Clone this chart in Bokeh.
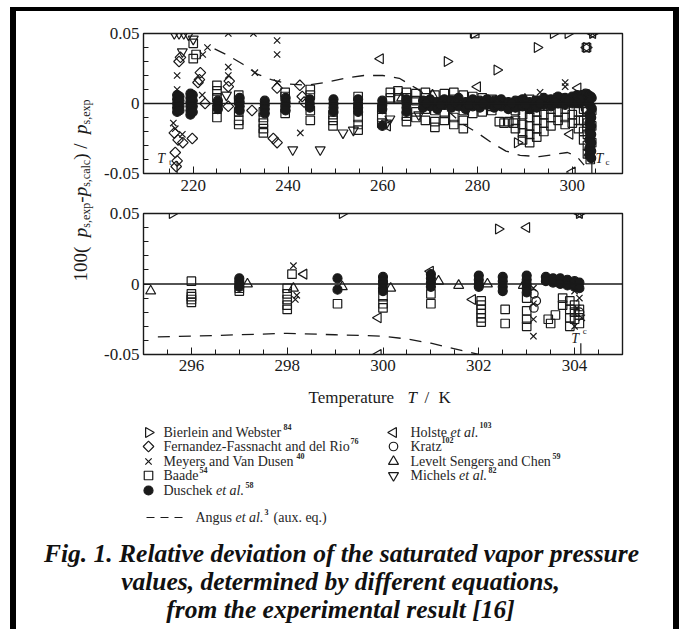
import math
from bokeh.plotting import figure
from bokeh.models import Range1d, FixedTicker, Span
from bokeh.layouts import column, row
from bokeh.embed import file_html
from bokeh.resources import INLINE
from bokeh.core.properties import value

SERIF = "Liberation Serif"
INK = "#1a1a1a"

# ------------------------------------------------------------------ data
# upper panel: T / K and 100 (p_exp - p_calc) / p_exp
bw_top_T = [273.6, 279.3, 284.1, 288.4, 292.6, 296.0, 299.1, 303.0, 304.3]
bw_top_dev = [0.030, 0.050, 0.024, -0.028, 0.040, 0.050, 0.050, 0.040, 0.050]

holste_top_T = [259.5, 261.0, 280.0, 299.5, 300.0, 301.2, 303.0, 304.3]
holste_top_dev = [0.032, -0.016, 0.012, -0.022, -0.049, 0.011, 0.040, 0.050]

ff_top_T = [216.0, 216.8, 216.2, 216.6, 216.4, 219.8, 217.8, 217.3, 217.0, 221.5, 221.3,
            221.0, 222.5, 227.4, 227.6, 227.4, 232.4, 236.9, 237.7, 237.7, 242.5, 243.0, 243.4]
ff_top_dev = [-0.021, -0.026, -0.035, -0.041, -0.045, -0.025, -0.028, 0.033, 0.030, 0.022, 0.017,
              0.015, 0.000, 0.012, 0.016, -0.002, -0.005, -0.025, 0.011, -0.028, 0.013, 0.005, 0.001]

meyers_top_T = [215.8, 216.2, 216.6, 216.6, 217.7, 221.9, 222.0, 223.0, 227.4, 227.4, 227.4,
                232.7, 233.0, 237.7, 237.7, 237.7, 242.6, 293.2, 298.5, 298.5, 303.1, 304.3]
meyers_top_dev = [-0.014, -0.018, 0.020, 0.010, -0.022, 0.006, 0.035, 0.040, 0.050, 0.026, 0.020,
                  0.050, 0.022, 0.045, 0.035, 0.015, -0.021, 0.008, 0.015, 0.012, -0.035, 0.050]

michels_top_T = [216.0, 217.0, 218.0, 219.0, 220.0, 217.7, 227.0, 241.0, 246.8, 251.6, 253.8,
                 260.8, 261.5, 267.6]
michels_top_dev = [0.050, 0.050, 0.050, 0.049, 0.046, 0.037, 0.006, -0.033, -0.033, -0.021, -0.019,
                   -0.014, -0.011, -0.008]

levelt_top_T = [264.0, 270.5, 276.0, 284.0, 290.0, 295.0, 300.5, 303.5]
levelt_top_dev = [0.004, 0.006, 0.003, 0.002, 0.003, 0.002, 0.004, 0.006]

kratz_top_T = [302.8, 303.6]
kratz_top_dev = [-0.004, 0.002]

baade_top_T = [
    220.0, 220.0, 220.6,
    225.0, 225.0, 225.0, 225.0, 225.0,
    229.6, 229.6, 229.6, 229.6, 229.6,
    234.8, 234.8, 234.8, 234.8, 234.8,
    239.4, 239.4, 239.4, 239.4,
    244.7, 244.7, 244.7, 244.7,
    249.5, 249.5, 249.5,
    254.8, 254.8, 254.8, 254.8, 254.8,
    259.8, 259.8, 259.8,
    261.6, 261.6, 263.2, 263.2,
    265.0, 265.0, 265.0, 265.0,
    267.0, 267.0, 267.0, 267.0,
    269.0, 269.0, 269.0, 269.0,
    271.0, 271.0, 271.0, 271.0,
    273.0, 273.0, 273.0, 273.0,
    275.0, 275.0, 275.0, 275.0,
    277.0, 277.0, 277.0, 277.0,
    279.0, 279.0, 279.0, 279.4,
    281.0, 281.0, 281.0,
    283.0, 283.0, 283.0,
    284.6, 285.6, 286.6, 287.6,
    288.0, 288.0, 288.0,
    289.5, 289.5, 289.5, 289.5, 289.5,
    291.0, 291.0, 291.0, 291.0, 291.0, 291.0,
    292.5, 292.5, 292.5, 292.5, 292.5,
    294.0, 294.0, 294.0, 294.0,
    295.5, 295.5, 295.5,
    297.0, 297.0, 297.0,
    298.5, 298.5, 298.5, 298.5,
    300.0, 300.0, 300.0,
    301.3, 301.3, 301.3, 301.3,
    302.4, 302.4, 302.4, 302.4,
    303.0,
    303.2, 303.2, 303.2, 303.2, 303.2,
    303.8, 303.8, 303.8, 303.8, 303.8,
    304.1, 304.1, 304.1,
]
baade_top_dev = [
    0.043, 0.032, 0.035,
    0.013, 0.009, 0.004, -0.004, -0.010,
    0.006, 0.002, -0.006, -0.012, -0.015,
    -0.006, -0.010, -0.014, -0.018, -0.021,
    0.008, 0.005, -0.003, -0.007,
    0.010, 0.006, -0.005, -0.012,
    -0.008, -0.012, -0.016,
    0.005, -0.003, -0.010, -0.015, -0.019,
    -0.004, -0.010, -0.014,
    0.008, 0.004, 0.009, 0.004,
    0.008, 0.004, -0.009, -0.013,
    0.007, 0.002, -0.006, -0.010,
    0.008, 0.004, -0.004, -0.012,
    0.006, -0.005, -0.013, -0.017,
    0.007, 0.002, -0.007, -0.012,
    0.008, 0.003, -0.010, -0.015,
    0.006, -0.005, -0.012, -0.018,
    0.005, 0.001, -0.007, 0.050,
    0.004, 0.000, -0.006,
    0.003, -0.002, -0.005,
    -0.013, -0.014, -0.013, -0.014,
    -0.005, -0.012, -0.018,
    0.002, -0.008, -0.015, -0.021, -0.026,
    0.003, -0.004, -0.010, -0.016, -0.022, -0.028,
    0.002, -0.006, -0.012, -0.018, -0.024,
    0.000, -0.008, -0.014, -0.020,
    -0.004, -0.010, -0.016,
    0.004, -0.006, -0.012,
    0.003, -0.004, -0.010, -0.015,
    0.002, -0.008, -0.014,
    0.001, -0.006, -0.012, -0.018,
    -0.004, -0.012, -0.020, -0.026,
    0.040,
    -0.006, -0.014, -0.022, -0.030, -0.036,
    -0.010, -0.018, -0.025, -0.033, -0.040,
    -0.005, -0.016, -0.028,
]

duschek_top_T = [
    216.6, 216.6, 216.6, 216.6, 216.6,
    217.1, 217.1, 217.1, 217.1,
    219.4, 219.4, 219.4, 219.4, 219.4, 219.4,
    219.9, 219.9, 219.9, 219.9,
    225.2, 225.2, 225.2,
    229.8, 229.8, 229.8, 229.8,
    235.1, 235.1, 235.1, 235.1,
    239.5, 239.5, 239.5, 239.5,
    244.6, 244.6, 244.6,
    249.6, 249.6, 249.6, 249.6,
    254.8, 254.8, 254.8, 254.8,
    259.9, 259.9, 259.9, 259.9,
    265.0, 265.0, 265.0, 265.0,
    268.5, 268.5, 270.0, 270.0, 271.5, 271.5, 273.0, 273.0, 274.5, 274.5,
    276.0, 276.0, 277.5, 277.5, 279.0, 279.0, 280.5, 280.5, 282.0, 282.0,
    283.5, 283.5, 285.0, 285.0, 286.5, 286.5, 288.0, 288.0, 289.5, 289.5,
    291.0, 291.0, 292.5, 292.5, 294.0, 294.0, 295.5, 295.5, 297.0, 297.0,
    298.5, 298.5, 300.0, 300.0, 301.0, 301.0, 302.0, 302.0, 302.8, 302.8,
    303.4, 303.4, 303.9, 303.9, 304.1, 304.1,
    269.2, 272.2, 275.2, 278.2, 281.2, 284.2, 287.2, 290.2, 293.2, 296.2, 299.2, 301.6,
    303.6, 303.6, 303.6, 303.6, 303.6, 303.6,
    304.0, 304.0, 304.0, 304.0, 304.0, 304.0,
]
duschek_top_dev = [
    0.006, 0.003, 0.000, -0.003, -0.006,
    0.005, 0.002, -0.002, -0.005,
    0.007, 0.004, 0.001, -0.002, -0.005, -0.008,
    0.006, 0.002, -0.002, -0.006,
    0.002, -0.001, -0.004,
    0.004, 0.001, -0.002, -0.005,
    0.002, -0.001, -0.004, -0.007,
    0.004, 0.001, -0.002, -0.005,
    0.003, 0.000, -0.003,
    0.003, 0.000, -0.003, -0.006,
    0.003, 0.000, -0.003, -0.006,
    0.002, -0.001, -0.004, -0.016,
    0.003, 0.000, -0.003, -0.006,
    0.002, -0.003, 0.003, -0.002, 0.001, -0.004, 0.003, -0.001, 0.002, -0.003,
    0.004, -0.002, 0.001, -0.004, 0.003, -0.002, 0.002, -0.003, 0.003, -0.001,
    0.002, -0.003, 0.003, -0.002, 0.001, -0.004, 0.002, -0.003, 0.003, -0.002,
    0.001, -0.004, 0.002, -0.003, 0.004, -0.001, 0.003, -0.002, 0.005, 0.000,
    0.004, -0.001, 0.005, 0.000, 0.006, 0.001, 0.006, 0.001, 0.007, 0.002,
    0.006, 0.000, 0.005, -0.002, 0.004, -0.004,
    0.000, -0.001, 0.001, -0.001, 0.000, -0.001, 0.000, -0.001, 0.000, 0.001, 0.002, 0.003,
    -0.008, -0.014, -0.020, -0.026, -0.032, -0.037,
    -0.010, -0.016, -0.022, -0.028, -0.034, -0.039,
]

angus_top_T = [224.5, 227.5, 230.5, 233.5, 236.5, 240.0, 244.0, 248.0, 252.0, 256.0, 260.0,
               263.5, 267.0, 270.0, 274.0, 277.0, 280.0, 283.0, 286.0, 289.0, 293.0, 297.0,
               299.0, 301.0, 302.5]
angus_top_dev = [0.039, 0.034, 0.028, 0.021, 0.017, 0.014, 0.013, 0.015, 0.018, 0.020, 0.020,
                 0.018, 0.011, 0.004, -0.006, -0.015, -0.021, -0.028, -0.034, -0.037, -0.038,
                 -0.036, -0.035, -0.038, -0.044]

# lower panel (enlarged near-critical range)
bw_bot_T = [295.6, 299.15, 302.41, 304.1]
bw_bot_dev = [0.050, 0.050, 0.039, 0.050]

holste_bot_T = [298.35, 299.9, 299.9, 300.99, 301.87, 303.0, 304.1]
holste_bot_dev = [0.007, -0.024, -0.050, 0.009, -0.011, 0.040, 0.050]

meyers_bot_T = [298.13, 298.17, 298.2, 303.14, 303.14, 303.14, 303.14, 304.0, 304.1, 304.05,
                304.15, 304.0, 304.1]
meyers_bot_dev = [0.013, -0.011, -0.008, -0.003, -0.014, -0.025, -0.037, -0.005, -0.010, -0.017,
                  -0.024, -0.030, 0.050]

levelt_bot_T = [295.15, 297.17, 298.13, 299.15, 300.16, 301.16, 301.58, 302.18, 302.93]
levelt_bot_dev = [-0.005, 0.000, -0.003, -0.002, -0.003, 0.002, -0.001, 0.000, -0.001]

kratz_bot_T = [303.15, 303.2, 303.15, 304.1]
kratz_bot_dev = [-0.007, -0.012, -0.017, -0.020]

baade_bot_T = [296.0, 296.0, 296.0, 296.0, 296.0, 297.0, 297.0, 298.0, 298.0, 298.0, 298.0,
               298.0, 299.05, 300.0, 300.0, 300.0, 301.0, 301.0, 302.05, 302.05, 302.05, 302.05,
               302.05, 302.05, 302.55, 302.55, 303.0, 303.0, 303.0, 303.0, 303.45, 303.5, 303.6,
               303.75, 303.75, 303.9, 303.9, 303.9, 303.9, 304.0, 304.0, 304.0, 304.1, 304.1,
               304.1, 298.1]
baade_bot_dev = [0.002, -0.007, -0.009, -0.011, -0.013, -0.003, -0.005, -0.003, -0.007, -0.011,
                 -0.015, -0.018, -0.014, -0.009, -0.014, -0.017, -0.007, -0.014, -0.012, -0.015,
                 -0.018, -0.021, -0.024, -0.027, -0.018, -0.028, -0.010, -0.019, -0.025, -0.030,
                 -0.025, -0.028, -0.022, -0.010, -0.015, -0.012, -0.018, -0.024, -0.030, -0.015,
                 -0.020, -0.025, -0.018, -0.022, -0.028, 0.007]

duschek_bot_T = [297.0, 297.0, 297.0, 297.0, 299.05, 299.05, 300.0, 300.0, 300.0, 300.0, 300.0,
                 301.0, 301.0, 301.0, 301.0, 302.0, 302.0, 302.0, 302.0, 302.5, 302.5, 302.5,
                 302.5, 303.0, 303.0, 303.0, 303.0, 303.0, 303.4, 303.4, 303.55, 303.55, 303.7,
                 303.7, 303.85, 303.85, 304.0, 304.0, 304.1, 304.1]
duschek_bot_dev = [0.004, 0.002, 0.000, -0.002, 0.004, -0.004, 0.005, 0.002, 0.000, -0.003,
                   -0.005, 0.007, 0.004, 0.001, -0.002, 0.006, 0.003, 0.000, -0.002, 0.005, 0.002,
                   -0.002, -0.005, 0.006, 0.003, 0.000, -0.003, -0.006, 0.005, 0.002, 0.004, 0.001,
                   0.004, 0.000, 0.003, -0.001, 0.002, -0.002, 0.001, -0.003]

angus_bot_T = [295.3, 296.0, 297.0, 298.0, 299.0, 300.0, 300.5, 301.0, 301.5, 302.0]
angus_bot_dev = [-0.0375, -0.037, -0.036, -0.035, -0.036, -0.037, -0.039, -0.042, -0.046, -0.050]

T_TRIPLE = 216.59
T_CRIT = 304.13

top_major = [220, 240, 260, 280, 300]
top_minor = [215, 225, 230, 235, 245, 250, 255, 265, 270, 275, 285, 290, 295, 305]
bot_major = [296, 298, 300, 302, 304]
bot_minor = [295.5, 296.5, 297, 297.5, 298.5, 299, 299.5, 300.5, 301, 301.5, 302.5, 303,
             303.5, 304.5]
y_major = [-0.05, 0.0, 0.05]
y_minor = [-0.04, -0.03, -0.02, -0.01, 0.01, 0.02, 0.03, 0.04]

# marker styles per data set
STY = {
    "bw": dict(marker="triangle", angle=-math.pi / 2, size=10, fill_color=None),
    "ff": dict(marker="square", angle=math.pi / 4, size=7.5, fill_color=None),
    "me": dict(marker="x", angle=0, size=9, fill_color=None),
    "ba": dict(marker="square", angle=0, size=8.5, fill_color=None),
    "du": dict(marker="circle", angle=0, size=9, fill_color=INK),
    "ho": dict(marker="triangle", angle=math.pi / 2, size=10, fill_color=None),
    "kr": dict(marker="circle", angle=0, size=8.5, fill_color=None),
    "le": dict(marker="triangle", angle=0, size=10, fill_color=None),
    "mi": dict(marker="inverted_triangle", angle=0, size=10, fill_color=None),
}


def pts(p, key, xs, ys):
    s = STY[key]
    p.scatter(x=xs, y=ys, marker=s["marker"], angle=s["angle"], size=s["size"],
              fill_color=s["fill_color"], line_color=INK, line_width=1.2)


def txt(p, x, y, s, size=14, style="normal", align="left", baseline="middle",
        color=INK, angle=0.0):
    p.text(x=[x], y=[y], text=[s], text_font=value(SERIF), text_font_size=f"{size}px",
           text_font_style=style, text_align=align, text_baseline=baseline,
           text_color=color, angle=angle)


def panel(xr, major, minor, height, mb_top, mb_bot, standoff):
    p = figure(width=573, height=height, x_range=Range1d(*xr), y_range=Range1d(-0.05, 0.05),
               output_backend="svg", toolbar_location=None,
               min_border_left=43, min_border_right=51,
               min_border_top=mb_top, min_border_bottom=mb_bot)
    p.grid.visible = False
    p.outline_line_color = INK
    p.outline_line_width = 1.4
    p.border_fill_color = "white"
    xa = p.xaxis[0]
    xa.ticker = FixedTicker(ticks=major, minor_ticks=minor)
    ya = p.yaxis[0]
    ya.ticker = FixedTicker(ticks=y_major, minor_ticks=y_minor)
    ya.major_label_overrides = {-0.05: "-0.05", 0.0: "0", 0.05: "0.05"}
    for ax in (xa, ya):
        ax.axis_line_color = None
        ax.major_tick_in = 7
        ax.major_tick_out = 0
        ax.minor_tick_in = 5
        ax.minor_tick_out = 0
        ax.major_tick_line_color = INK
        ax.minor_tick_line_color = INK
        ax.major_label_text_font = SERIF
        ax.major_label_text_font_size = "17px"
        ax.major_label_text_color = INK
    xa.major_label_standoff = standoff
    ya.major_label_standoff = 4
    p.add_layout(Span(location=0, dimension="width", line_color=INK, line_width=1.3))
    return p


# ------------------------------------------------------------------ upper panel
top = panel((209.5, 310.6), top_major, top_minor, 192, 22, 30, 6)
top.line(angus_top_T, angus_top_dev, line_color=INK, line_width=1.3, line_dash="12 9")
pts(top, "ba", baade_top_T, baade_top_dev)
pts(top, "du", duschek_top_T, duschek_top_dev)
pts(top, "ff", ff_top_T, ff_top_dev)
pts(top, "me", meyers_top_T, meyers_top_dev)
pts(top, "mi", michels_top_T, michels_top_dev)
pts(top, "le", levelt_top_T, levelt_top_dev)
pts(top, "kr", kratz_top_T, kratz_top_dev)
pts(top, "bw", bw_top_T, bw_top_dev)
pts(top, "ho", holste_top_T, holste_top_dev)
top.segment(x0=[T_TRIPLE, T_CRIT], y0=[-0.05, -0.05], x1=[T_TRIPLE, T_CRIT],
            y1=[-0.041, -0.041], line_color=INK, line_width=1.2)
txt(top, 212.4, -0.039, "T", size=14, style="italic")
txt(top, 214.9, -0.042, "t", size=9)
txt(top, 304.9, -0.039, "T", size=14, style="italic")
txt(top, 307.0, -0.042, "c", size=9)

# ------------------------------------------------------------------ lower panel
bot = panel((295.0, 305.0), bot_major, bot_minor, 176, 10, 25, 5)
bot.line(angus_bot_T, angus_bot_dev, line_color=INK, line_width=1.3, line_dash="12 9")
pts(bot, "ba", baade_bot_T, baade_bot_dev)
pts(bot, "du", duschek_bot_T, duschek_bot_dev)
pts(bot, "me", meyers_bot_T, meyers_bot_dev)
pts(bot, "le", levelt_bot_T, levelt_bot_dev)
pts(bot, "kr", kratz_bot_T, kratz_bot_dev)
pts(bot, "bw", bw_bot_T, bw_bot_dev)
pts(bot, "ho", holste_bot_T, holste_bot_dev)
bot.segment(x0=[T_CRIT], y0=[-0.05], x1=[T_CRIT], y1=[-0.042], line_color=INK, line_width=1.2)
txt(bot, 303.93, -0.039, "T", size=14, style="italic")
txt(bot, 304.17, -0.033, "c", size=9)

# ------------------------------------------------------------------ shared y label
ylab = figure(width=84, height=368, x_range=Range1d(16, 100), y_range=Range1d(379, 11),
              x_axis_type=None, y_axis_type=None, output_backend="svg",
              toolbar_location=None, min_border=0)
ylab.grid.visible = False
ylab.outline_line_color = None

WID = {"1": 500, "0": 500, " ": 250, "(": 333, ")": 333, "p": 500, "s": 389, ",": 250,
       "e": 444, "x": 500, "c": 444, "a": 444, "l": 278, "-": 333, "/": 278}
pieces = [("100", 19, "normal", 0), (" ( ", 19, "normal", 0), ("p", 19, "italic", 0),
          ("s,exp", 12, "normal", 5), ("-", 19, "normal", 0), ("p", 19, "italic", 0),
          ("s,calc", 12, "normal", 5), (" )", 19, "normal", 0), (" / ", 19, "normal", 0),
          ("p", 19, "italic", 0), ("s,exp", 12, "normal", 5)]
cur = 281.0
for s, size, style, dx in pieces:
    txt(ylab, 80 + dx, cur, s, size=size, style=style, angle=math.pi / 2)
    cur -= sum(WID[c] for c in s) / 1000 * size

# ------------------------------------------------------------------ legend + caption
ann = figure(width=657, height=250, x_range=Range1d(16, 673), y_range=Range1d(629, 379),
             x_axis_type=None, y_axis_type=None, output_backend="svg",
             toolbar_location=None, min_border=0)
ann.grid.visible = False
ann.outline_line_color = None

txt(ann, 308, 397, "Temperature", size=17, baseline="alphabetic")
txt(ann, 407, 397, "T", size=17, style="italic", baseline="alphabetic")
txt(ann, 424, 397, "/", size=17, baseline="alphabetic")
txt(ann, 438, 397, "K", size=17, baseline="alphabetic")

leg_rows = [432, 446, 461, 475, 490]
col1_keys = ["bw", "ff", "me", "ba", "du"]
col2_keys = ["ho", "kr", "le", "mi"]
for k, yy in zip(col1_keys, leg_rows):
    pts(ann, k, [148], [yy])
for k, yy in zip(col2_keys, leg_rows):
    pts(ann, k, [393], [yy])

LC = "#262626"
txt(ann, 163, 432, "Bierlein and Webster", color=LC)
txt(ann, 283, 426, "84", size=8, style="bold", color=LC)
txt(ann, 163, 446, "Fernandez-Fassnacht and del Rio", color=LC)
txt(ann, 350, 440, "76", size=8, style="bold", color=LC)
txt(ann, 163, 461, "Meyers and Van Dusen", color=LC)
txt(ann, 296, 455, "40", size=8, style="bold", color=LC)
txt(ann, 163, 475, "Baade", color=LC)
txt(ann, 199, 469, "54", size=8, style="bold", color=LC)
txt(ann, 163, 490, "Duschek ", color=LC)
txt(ann, 215.5, 490, "et al.", style="italic", color=LC)
txt(ann, 245, 484, "58", size=8, style="bold", color=LC)
txt(ann, 410, 432, "Holste ", color=LC)
txt(ann, 450, 432, "et al.", style="italic", color=LC)
txt(ann, 479, 424, "103", size=8, style="bold", color=LC)
txt(ann, 410, 446, "Kratz", color=LC)
txt(ann, 441, 439, "102", size=8, style="bold", color=LC)
txt(ann, 410, 461, "Levelt Sengers and Chen", color=LC)
txt(ann, 552, 455, "59", size=8, style="bold", color=LC)
txt(ann, 410, 475, "Michels ", color=LC)
txt(ann, 458.6, 475, "et al.", style="italic", color=LC)
txt(ann, 488, 469, "82", size=8, style="bold", color=LC)
ann.line([146, 184], [517, 517], line_color=INK, line_width=1.2, line_dash="8 6")
txt(ann, 195, 517, "Angus ", color=LC)
txt(ann, 235, 517, "et al.", style="italic", color=LC)
txt(ann, 264, 511, "3", size=8, style="bold", color=LC)
txt(ann, 273, 517, "(aux. eq.)", color=LC)

CAP = "#111111"
txt(ann, 341, 553, "Fig. 1. Relative deviation of the saturated vapor pressure", size=25.5,
    style="bold italic", align="center", color=CAP)
txt(ann, 340, 581, "values, determined by different equations,", size=25.5,
    style="bold italic", align="center", color=CAP)
txt(ann, 340, 609, "from the experimental result [16]", size=25.5,
    style="bold italic", align="center", color=CAP)

layout = column(row(ylab, column(top, bot)), ann,
                styles={"border-left": "6px solid #000", "border-right": "6px solid #000",
                        "border-top": "4px solid #000", "margin-left": "10px",
                        "margin-top": "7px"})

open("out.html", "w").write(file_html(layout, INLINE))
